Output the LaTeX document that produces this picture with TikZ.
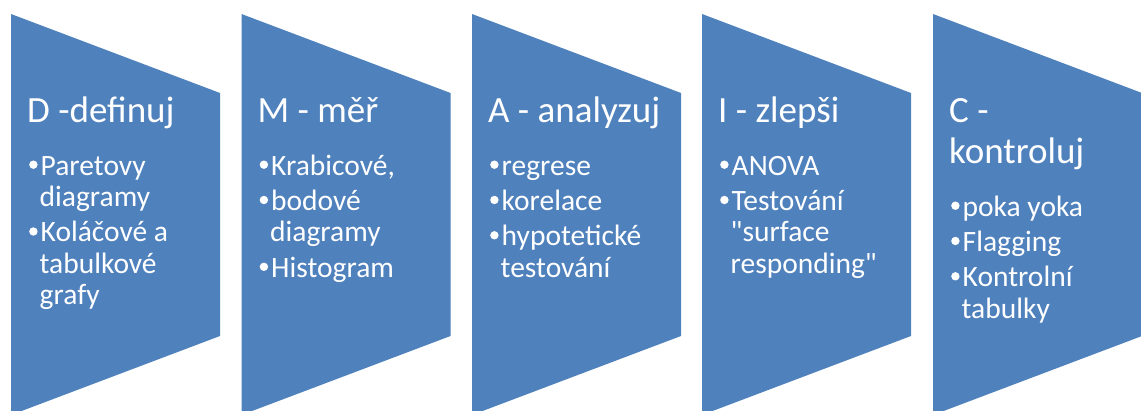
\documentclass[tikz,border=0pt]{standalone}
\usepackage{fontspec}
\setmainfont{Carlito}[Ligatures=TeXOff]
\definecolor{accent}{HTML}{4F81BD}

% round bullet dot, sitting on the text baseline
\newcommand\bdot{\tikz[baseline=0pt]\fill[white] (4.2pt,10.5pt) circle (4.2pt);}
% heading plus bullet list, set as one top-aligned block
\newcommand\stageblock[2]{\vtop{\hsize=260pt\parindent=0pt\parskip=0pt
  \fontsize{37}{41}\selectfont\noindent #1\par
  \fontsize{29.5}{31.5}\selectfont\parskip=3.8pt\vskip 17.2pt
  #2\par}}
\newcommand\bitem[1]{\par\hangindent=12.5pt\hangafter=1\noindent
  \makebox[13.5pt][l]{\hspace{2pt}\bdot}#1}

\tikzset{
  x=1pt, y=-1pt,
  chev/.style={fill=accent, draw=none},
  lbl/.style={anchor=base west, inner sep=0pt, text=white}
}

\begin{document}
\begin{tikzpicture}
\useasboundingbox (0,0) rectangle (1141,411);

% five process stages
\foreach \L in {11, 241.5, 472, 702, 933}{
  \path[chev] (\L,14) -- ({\L+209},93) -- ({\L+209},336) -- (\L,415) -- cycle;
}

\node[lbl] (sD) at (27,122.7) {\stageblock{D -definuj}{%
  \bitem{Paretovy\newline diagramy}%
  \bitem{Koláčové a\newline tabulkové\newline grafy}}};

\node[lbl] (sM) at (257.5,122.7) {\stageblock{M - měř}{%
  \bitem{Krabicové,}%
  \bitem{bodové\newline diagramy}%
  \bitem{Histogram}}};

\node[lbl] (sA) at (488,122.7) {\stageblock{A - analyzuj}{%
  \bitem{regrese}%
  \bitem{korelace}%
  \bitem{hypotetické\newline testování}}};

\node[lbl] (sI) at (718,122.7) {\stageblock{I - zlepši}{%
  \bitem{ANOVA}%
  \bitem{Testování\newline "surface\newline responding"}}};

\node[lbl] (sC) at (949,122.7) {\stageblock{C -\newline kontroluj}{%
  \bitem{poka yoka}%
  \bitem{Flagging}%
  \bitem{Kontrolní\newline tabulky}}};
\end{tikzpicture}
\end{document}
